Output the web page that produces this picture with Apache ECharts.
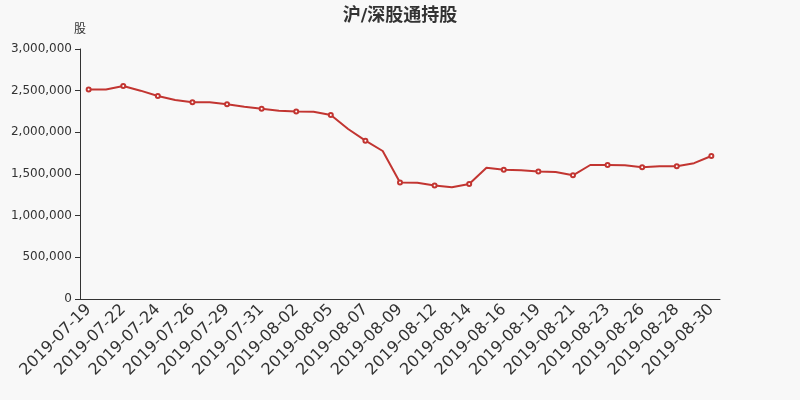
<!DOCTYPE html>
<html><head><meta charset="utf-8">
<script src="https://cdn.jsdelivr.net/npm/echarts@6/dist/echarts.min.js"></script>
<style>html,body{margin:0;padding:0;background:#f8f8f8;}#c{width:800px;height:400px;}</style>
</head><body><div id="c"></div>
<script>
var categories = ['2019-07-19','2019-07-21','2019-07-22','2019-07-23','2019-07-24','2019-07-25','2019-07-26','2019-07-28','2019-07-29','2019-07-30','2019-07-31','2019-08-01','2019-08-02','2019-08-04','2019-08-05','2019-08-06','2019-08-07','2019-08-08','2019-08-09','2019-08-11','2019-08-12','2019-08-13','2019-08-14','2019-08-15','2019-08-16','2019-08-18','2019-08-19','2019-08-20','2019-08-21','2019-08-22','2019-08-23','2019-08-25','2019-08-26','2019-08-27','2019-08-28','2019-08-29','2019-08-30'];
var holdings = [2515000,2515000,2556000,2500000,2436000,2388000,2362000,2360000,2336000,2308000,2282000,2258000,2250000,2248000,2208000,2040000,1900000,1776000,1398000,1396000,1362000,1340000,1380000,1576000,1550000,1546000,1530000,1524000,1484000,1608000,1608000,1604000,1582000,1594000,1592000,1630000,1716000];
var titleText = '沪/深股通持股';
var yName = '股';

var FF = '"DejaVu Sans", "Noto Sans CJK SC", sans-serif';
var chart = echarts.init(document.getElementById('c'));
chart.setOption({
  backgroundColor: '#f8f8f8',
  animation: false,
  textStyle: { fontFamily: FF },
  title: { text: titleText, left: 'center', top: 2, textStyle: { fontSize: 18, fontWeight: 'bold', color: '#333', fontFamily: FF } },
  grid: { left: 80, right: 80, top: 49, bottom: 101, containLabel: false },
  xAxis: {
    type: 'category', data: categories, boundaryGap: true,
    axisLine: { lineStyle: { color: '#333' } },
    axisTick: { interval: 1, lineStyle: { color: '#333' } },
    axisLabel: { interval: 1, rotate: 45, fontSize: 16, color: '#333', fontFamily: FF }
  },
  yAxis: {
    type: 'value', min: 0, max: 3000000, interval: 500000, name: yName,
    nameTextStyle: { color: '#333', fontSize: 12, fontFamily: FF, padding: [0, 0, -2, 0] },
    axisLine: { show: true, lineStyle: { color: '#333' } },
    axisTick: { show: true, lineStyle: { color: '#333' } },
    splitLine: { show: false },
    axisLabel: { color: '#333', fontSize: 12, fontFamily: FF, formatter: function (v) { return v.toLocaleString('en-US'); } }
  },
  series: [{
    type: 'line', data: holdings, symbol: 'emptyCircle', symbolSize: 4,
    showAllSymbol: false,
    lineStyle: { color: '#c23531', width: 2 },
    itemStyle: { color: '#c23531' }
  }]
});
</script></body></html>
